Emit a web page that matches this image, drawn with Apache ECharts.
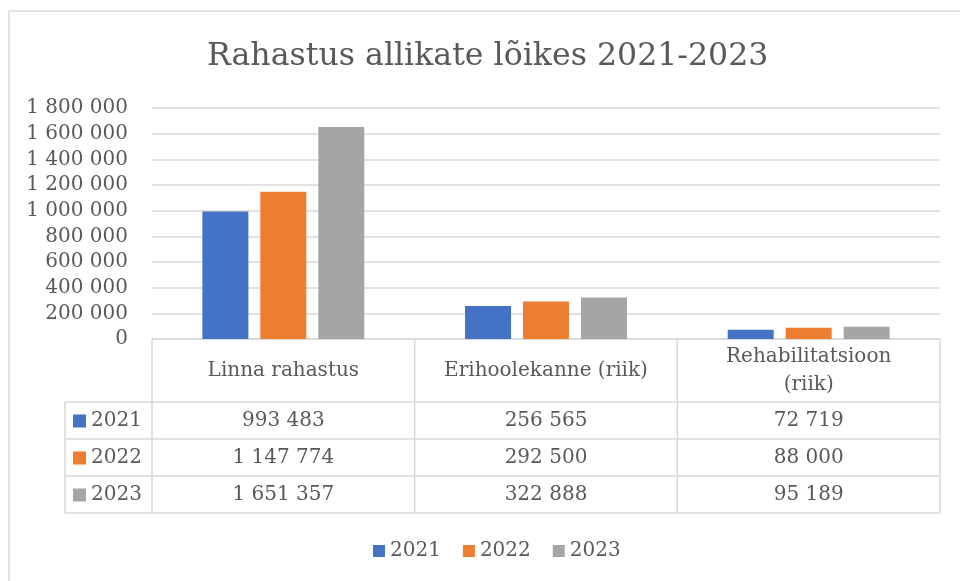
<!DOCTYPE html>
<html>
<head>
<meta charset="utf-8">
<script src="https://cdn.jsdelivr.net/npm/echarts@6/dist/echarts.min.js"></script>
<style>
  html, body { margin: 0; padding: 0; background: #fff; }
  #chart { width: 960px; height: 581px; }
</style>
</head>
<body>
<div id="chart"></div>
<script>
var categories = ['Linna rahastus', 'Erihoolekanne (riik)', 'Rehabilitatsioon\n(riik)']
var years = ['2021', '2022', '2023']
var values2021 = [993483, 256565, 72719]
var values2022 = [1147774, 292500, 88000]
var values2023 = [1651357, 322888, 95189]
var colors = ['#4472C4', '#ED7D31', '#A5A5A5']

var FONT = 'DejaVu Serif'
var TEXT = '#595959'
var LINE = '#D9D9D9'

function fmt(v) {
  return String(v).replace(/\B(?=(\d{3})+(?!\d))/g, ' ')
}

var chart = echarts.init(document.getElementById('chart'))
var allValues = [values2021, values2022, values2023]

var option = {
  animation: false,
  title: {
    text: 'Rahastus allikate lõikes 2021-2023',
    left: 202,
    top: 36,
    textStyle: { fontFamily: FONT, fontSize: 31.6, fontWeight: 'normal', color: TEXT }
  },
  legend: {
    bottom: 15,
    left: 368,
    icon: 'rect',
    itemWidth: 12,
    itemHeight: 12,
    itemGap: 22,
    itemStyle: { borderWidth: 0 },
    textStyle: { fontFamily: FONT, fontSize: 20, color: TEXT },
    data: years
  },
  grid: { left: 152, right: 20, top: 108, bottom: 242 },
  xAxis: {
    type: 'category',
    data: categories,
    axisLine: { show: false },
    axisTick: { show: false },
    axisLabel: { show: false }
  },
  yAxis: {
    type: 'value',
    min: 0,
    max: 1800000,
    interval: 200000,
    axisLine: { show: false },
    axisTick: { show: false },
    splitLine: { lineStyle: { color: LINE, width: 1.5 } },
    axisLabel: {
      fontFamily: FONT, fontSize: 20, color: TEXT, margin: 24,
      formatter: function (v) { return fmt(v) }
    }
  },
  series: years.map(function (y, i) {
    return {
      name: y,
      type: 'bar',
      data: allValues[i],
      barWidth: 46,
      barGap: '26%',
      itemStyle: { color: colors[i] }
    }
  })
}
chart.setOption(option)

// data table under the axis
var c0 = chart.convertToPixel({ xAxisIndex: 0 }, 0)
var c1 = chart.convertToPixel({ xAxisIndex: 0 }, 1)
var band = c1 - c0
var x0 = c0 - band / 2
var yTop = chart.convertToPixel({ yAxisIndex: 0 }, 0)
var headH = 63
var rowH = 37
var keyLeft = 65
var els = []
var ls = { stroke: LINE, lineWidth: 1.5 }
var nCols = categories.length
var xEnd = x0 + band * nCols
var yHead = yTop + headH
var yEnd = yHead + rowH * years.length
var cellFont = '20px "' + FONT + '"'

// horizontal lines
els.push({ type: 'line', shape: { x1: x0, y1: yTop, x2: xEnd, y2: yTop }, style: ls })
for (var r = 0; r <= years.length; r++) {
  var yy = yHead + rowH * r
  els.push({ type: 'line', shape: { x1: keyLeft, y1: yy, x2: xEnd, y2: yy }, style: ls })
}
// vertical lines
els.push({ type: 'line', shape: { x1: keyLeft, y1: yHead, x2: keyLeft, y2: yEnd }, style: ls })
for (var k = 0; k <= nCols; k++) {
  var xx = x0 + band * k
  els.push({ type: 'line', shape: { x1: xx, y1: yTop, x2: xx, y2: yEnd }, style: ls })
}
// header text
categories.forEach(function (name, k) {
  els.push({
    type: 'text',
    x: x0 + band * (k + 0.5), y: yTop + headH / 2,
    style: { text: name, fill: TEXT, font: cellFont, align: 'center', verticalAlign: 'middle', lineHeight: 28 }
  })
})
// rows
years.forEach(function (y, r) {
  var cy = yHead + rowH * (r + 0.5)
  els.push({ type: 'rect', shape: { x: keyLeft + 8, y: cy - 6, width: 13, height: 13 }, style: { fill: colors[r] } })
  els.push({
    type: 'text', x: keyLeft + 26, y: cy,
    style: { text: y, fill: TEXT, font: cellFont, align: 'left', verticalAlign: 'middle' }
  })
  allValues[r].forEach(function (v, k) {
    els.push({
      type: 'text', x: x0 + band * (k + 0.5), y: cy,
      style: { text: fmt(v), fill: TEXT, font: cellFont, align: 'center', verticalAlign: 'middle' }
    })
  })
})
// outer chart border
els.push({ type: 'rect', shape: { x: 9, y: 11, width: 960, height: 600 }, style: { fill: 'none', stroke: LINE, lineWidth: 1.5 } })

chart.setOption({ graphic: els })
</script>
</body>
</html>
